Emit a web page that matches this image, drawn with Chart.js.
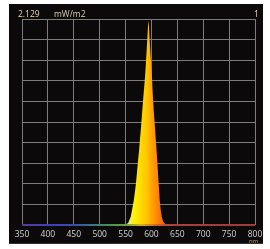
<!DOCTYPE html>
<html><head><meta charset="utf-8">
<script src="https://cdn.jsdelivr.net/npm/chart.js@4/dist/chart.umd.min.js"></script>
<style>
html,body{margin:0;padding:0;background:#ffffff;width:270px;height:249px;overflow:hidden;}
#bg{position:absolute;left:9px;top:4px;width:254px;height:240px;background:#0b0909;border-bottom:1px solid #4a2c14;box-sizing:border-box;}
#c{position:absolute;left:0;top:0;}
.t{position:absolute;font-family:"Open Sans",sans-serif;font-size:8.5px;line-height:10px;color:#e6d6b4;white-space:nowrap;}
</style></head>
<body>
<div id="bg"></div>
<canvas id="c" width="270" height="249"></canvas>
<div class="t" style="left:18px;top:9px;">2.129</div>
<div class="t" style="left:54px;top:9px;color:#d8ccb4;">mW/m2</div>
<div class="t" style="left:254px;top:9px;">1</div>
<div class="t" style="left:249px;top:238px;font-size:6px;line-height:7px;color:#c8a860;">nm</div>
<script>
// Data (wavelength in nm, irradiance in mW/m2)
const wavelengths = [350, 400, 450, 500, 540, 550, 555, 560, 563, 566, 570, 573, 576, 580, 584, 587, 589, 591, 593, 594, 595, 597, 599, 601, 603, 606, 610, 613, 616, 618, 620, 623, 627, 630, 650, 700, 750, 800];
const irradiance  = [0,   0,   0,   0,   0.002, 0.005, 0.02, 0.085, 0.17, 0.255, 0.425, 0.6, 0.765, 1.02, 1.30, 1.49, 1.64, 1.83, 2.02, 2.11, 2.065, 1.87, 1.70, 1.53, 1.30, 1.065, 0.765, 0.51, 0.255, 0.15, 0.085, 0.03, 0.01, 0.004, 0.001, 0, 0, 0];
const xTickLabels = [350, 400, 450, 500, 550, 600, 650, 700, 750, 800];
const yMax = 2.129;
const yDivisions = 10;

const peakPoints = wavelengths.map((w, i) => ({x: w, y: irradiance[i]}));
const baselinePoints = [{x: xTickLabels[0], y: 0}, {x: xTickLabels[xTickLabels.length - 1], y: 0}];

function gradFromStops(chart, stops) {
  const xs = chart.scales.x;
  const ca = chart.chartArea;
  if (!ca || !xs) return null;
  const x0 = xs.getPixelForValue(350), x1 = xs.getPixelForValue(800);
  const g = chart.ctx.createLinearGradient(x0, 0, x1, 0);
  stops.forEach(s => g.addColorStop((s[0] - 350) / 450, s[1]));
  return g;
}
const fillStops = [[350,'#ffe000'],[545,'#d8ec50'],[558,'#eef060'],[568,'#fff000'],[580,'#ffd800'],[592,'#ffc400'],[600,'#ffa400'],[610,'#ff8a00'],[620,'#f86a18'],[630,'#e04a20'],[800,'#e04a20']];
const lineStops = [[350,'#5a3a9a'],[400,'#4040b8'],[450,'#3a4cb0'],[480,'#3a7090'],[520,'#4a9050'],[550,'#70a040'],[580,'#d0b020'],[610,'#d06028'],[640,'#a84040'],[800,'#a03a3a']];

new Chart(document.getElementById('c'), {
  type: 'line',
  data: {
    datasets: [
      {
        data: peakPoints,
        fill: 'origin',
        borderWidth: 0,
        borderColor: 'rgba(0,0,0,0)',
        pointRadius: 0,
        tension: 0,
        backgroundColor: ctx => gradFromStops(ctx.chart, fillStops) || '#ffc000',
        order: 2
      },
      {
        data: baselinePoints,
        fill: false,
        borderWidth: 2,
        pointRadius: 0,
        borderColor: ctx => gradFromStops(ctx.chart, lineStops) || '#6060a0',
        clip: false,
        order: 1
      }
    ]
  },
  options: {
    responsive: false,
    animation: false,
    devicePixelRatio: 1,
    layout: {padding: {left: 22, right: 15, top: 19, bottom: 0}},
    plugins: {legend: {display: false}, tooltip: {enabled: false}},
    scales: {
      x: {
        type: 'linear', min: 350, max: 800,
        afterFit: s => { s.height = 24; },
        afterBuildTicks: s => { s.ticks = xTickLabels.map(v => ({value: v})); },
        grid: {color: '#7c7c7c', lineWidth: 1, drawTicks: false},
        border: {display: false},
        ticks: {color: '#d4d4d4', padding: 4, maxRotation: 0, autoSkip: false,
                font: {family: '"Open Sans", sans-serif', size: 8.5}}
      },
      y: {
        type: 'linear', min: 0, max: yMax,
        afterFit: s => { s.width = 0; },
        afterBuildTicks: s => { const t = []; for (let i = 0; i <= yDivisions; i++) t.push({value: yMax * i / yDivisions}); s.ticks = t; },
        grid: {color: '#7c7c7c', lineWidth: 1, drawTicks: false},
        border: {display: false},
        ticks: {display: false}
      }
    }
  }
});
</script>
</body></html>
